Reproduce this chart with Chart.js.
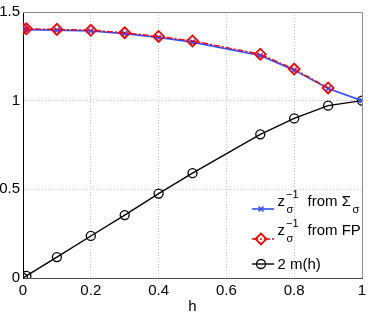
<!DOCTYPE html>
<html><head><meta charset="utf-8">
<script src="https://cdn.jsdelivr.net/npm/chart.js@4/dist/chart.umd.min.js"></script>
<style>html,body{margin:0;padding:0;background:#fff}canvas{display:block}</style></head>
<body>
<canvas id="c" width="374" height="315" style="width:374px;height:315px"></canvas>
<script>
// ---- data ----
const hSigma = [0, 0.01, 0.1, 0.2, 0.3, 0.4, 0.5, 0.7, 0.8, 0.9, 1];
const zSigma = [1.400, 1.400, 1.398, 1.393, 1.378, 1.356, 1.330, 1.255, 1.172, 1.068, 1.000];
const hFP = [0, 0.01, 0.1, 0.2, 0.3, 0.4, 0.5, 0.7, 0.8, 0.9];
const zFP = [1.405, 1.405, 1.402, 1.397, 1.383, 1.362, 1.337, 1.262, 1.178, 1.072];
const hM = [0, 0.01, 0.1, 0.2, 0.3, 0.4, 0.5, 0.7, 0.8, 0.9, 1];
const m2 = [0, 0.012, 0.118, 0.237, 0.355, 0.476, 0.591, 0.810, 0.900, 0.972, 1.000];
const xTicks = [0, 0.2, 0.4, 0.6, 0.8, 1];
const yTicks = [0, 0.5, 1, 1.5];
const xLabel = 'h';

const FONT = "'Liberation Sans', Arial, Helvetica, sans-serif";
const pts = (xs, ys) => xs.map((x, i) => ({x, y: ys[i]}));

const boxPlugin = {
  id: 'box',
  beforeDatasetsDraw(chart) {
    const {ctx, chartArea: a} = chart;
    ctx.save();
    ctx.strokeStyle = '#8a8a8a';
    ctx.lineWidth = 1;
    ctx.beginPath();
    ctx.moveTo(a.left, a.top + 0.5); ctx.lineTo(a.right + 0.5, a.top + 0.5);
    ctx.lineTo(a.right + 0.5, a.bottom);
    ctx.stroke();
    ctx.restore();
  }
};

const legendPlugin = {
  id: 'customLegend',
  afterDraw(chart) {
    const ctx = chart.ctx;
    const ds = chart.data.datasets;
    const rows = [
      {ds: ds[0], lineY: 209, base: 206, parts: [['z', 0], ['−1', 1], ['σ', -1], ['from Σ', 0], ['σ', -1]]},
      {ds: ds[1], lineY: 239, base: 235, parts: [['z', 0], ['−1', 1], ['σ', -1], ['from FP', 0]]},
      {ds: ds[2], lineY: 264, base: 269, parts: [['2 m(h)', 0]]}
    ];
    ctx.save();
    rows.forEach(row => {
      const d = row.ds;
      ctx.strokeStyle = d.borderColor;
      ctx.lineWidth = d.borderWidth;
      ctx.setLineDash(d.borderDash || []);
      ctx.beginPath(); ctx.moveTo(252, row.lineY); ctx.lineTo(274, row.lineY); ctx.stroke();
      ctx.setLineDash([]);
      ctx.strokeStyle = d.pointBorderColor;
      ctx.fillStyle = 'rgba(0,0,0,0)';
      ctx.lineWidth = d.pointBorderWidth;
      Chart.helpers.drawPoint(ctx, {pointStyle: d.pointStyle, radius: d.pointRadius, borderWidth: d.pointBorderWidth}, 261, row.lineY);
      // text
      ctx.fillStyle = '#000';
      ctx.textBaseline = 'alphabetic';
      let x = 277.5;
      let supX = null;
      row.parts.forEach(([t, k]) => {
        if (k === 0) {
          if (supX !== null) { x = Math.max(x, supX) + 9; supX = null; }
          ctx.font = '15px ' + FONT;
          ctx.fillText(t, x, row.base);
          x += ctx.measureText(t).width;
        } else if (k === 1) {
          ctx.font = '11px ' + FONT;
          ctx.fillText(t, x + 1, row.base - 8);
          supX = x + 1 + ctx.measureText(t).width;
        } else {
          ctx.font = '11px ' + FONT;
          ctx.fillText(t, x + 1.5, row.base + 7);
          const end = x + 1.5 + ctx.measureText(t).width;
          if (supX !== null) { supX = Math.max(supX, end); }
          else x = end;
        }
      });
    });
    ctx.restore();
  }
};

new Chart(document.getElementById('c'), {
  type: 'line',
  data: {
    datasets: [
      {
        label: 'z_σ^-1 from Σ_σ', data: pts(hSigma, zSigma),
        borderColor: '#2f4fff', borderWidth: 1.6,
        pointStyle: 'crossRot', pointRadius: 3.5, pointBorderColor: '#2f4fff', pointBorderWidth: 1.6,
        pointBackgroundColor: 'rgba(0,0,0,0)', order: 2
      },
      {
        label: 'z_σ^-1 from FP', data: pts(hFP, zFP),
        borderColor: '#ff0000', borderWidth: 1.4, borderDash: [6, 2, 2, 2],
        pointStyle: 'rectRot', pointRadius: 5.5, pointBorderColor: '#ff0000', pointBorderWidth: 1.8,
        pointBackgroundColor: 'rgba(0,0,0,0)', order: 1
      },
      {
        label: '2 m(h)', data: pts(hM, m2),
        borderColor: '#000000', borderWidth: 1.4,
        pointStyle: 'circle', pointRadius: 4.5, pointBorderColor: '#000000', pointBorderWidth: 1.3,
        pointBackgroundColor: 'rgba(0,0,0,0)', order: 3
      }
    ]
  },
  options: {
    responsive: false, animation: false, devicePixelRatio: 1,
    layout: {padding: {left: 0, top: 11, right: 12, bottom: 0}},
    plugins: {legend: {display: false}, tooltip: {enabled: false}},
    elements: {line: {tension: 0, fill: false}},
    scales: {
      x: {
        type: 'linear', min: 0, max: 1,
        afterBuildTicks: s => { s.ticks = xTicks.map(v => ({value: v})); },
        afterFit: s => { s.height = 37; },
        ticks: {font: {size: 15, family: FONT}, color: '#000', padding: 4, maxRotation: 0, autoSkip: false,
                callback: v => String(v)},
        grid: {color: '#c4c4c4', lineWidth: 1, drawTicks: false},
        border: {display: true, color: '#4a4a4a', width: 1, dash: [1, 2]},
        title: {display: true, text: xLabel, font: {size: 15, family: FONT}, color: '#000', padding: {top: 0, bottom: -1}}
      },
      y: {
        type: 'linear', min: 0, max: 1.5,
        afterBuildTicks: s => { s.ticks = yTicks.map(v => ({value: v})); },
        afterFit: s => { s.width = 23; },
        ticks: {font: {size: 15, family: FONT}, color: '#000', padding: 3, autoSkip: false,
                callback: v => String(v)},
        grid: {color: '#c4c4c4', lineWidth: 1, drawTicks: false},
        border: {display: true, color: '#000', width: 1, dash: [1, 2]}
      }
    }
  },
  plugins: [boxPlugin, legendPlugin]
});
</script>
</body></html>
